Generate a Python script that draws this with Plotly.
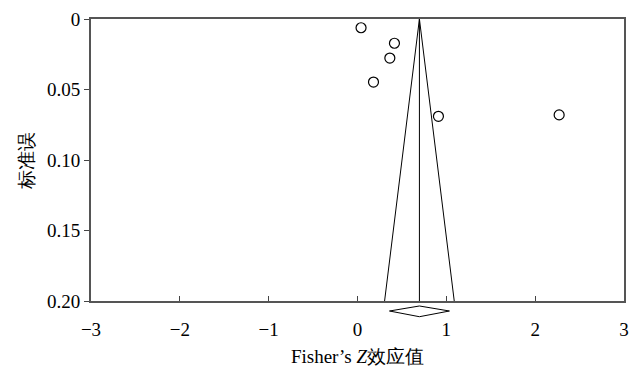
import plotly.graph_objects as go

# Study data (Fisher's Z effect size and its standard error)
effect_z = [0.04, 0.416, 0.364, 0.18, 0.911, 2.27]
std_err = [0.0062, 0.0172, 0.0277, 0.0447, 0.069, 0.068]

# Pooled estimate and 95% CI
pooled = 0.697
ci_low = 0.36
ci_high = 1.035
se_max = 0.20

x_ticks = [-3, -2, -1, 0, 1, 2, 3]
x_ticktext = ["−3", "−2", "−1", "0", "1", "2", "3"]
y_ticks = [0, 0.05, 0.10, 0.15, 0.20]
y_ticktext = ["0", "0.05", "0.10", "0.15", "0.20"]

FONT = "Liberation Serif"

fig = go.Figure()

# Funnel pseudo-confidence limits
fig.add_trace(go.Scatter(
    x=[pooled - 1.96 * se_max, pooled, pooled + 1.96 * se_max],
    y=[se_max, 0, se_max],
    mode="lines", line=dict(color="black", width=1), showlegend=False, hoverinfo="skip"))
# Pooled estimate vertical line
fig.add_trace(go.Scatter(
    x=[pooled, pooled], y=[0, se_max],
    mode="lines", line=dict(color="black", width=1), showlegend=False, hoverinfo="skip"))
# Studies
fig.add_trace(go.Scatter(
    x=effect_z, y=std_err, mode="markers",
    marker=dict(symbol="circle-open", size=10, color="black", line=dict(width=1.2)),
    showlegend=False, cliponaxis=False))

# Diamond for pooled CI, below the axis
fig.add_shape(type="path", xref="x", yref="paper",
              path=f"M {ci_low},-0.0355 L {pooled},-0.0177 L {ci_high},-0.0355 L {pooled},-0.0557 Z",
              line=dict(color="black", width=1), fillcolor="white")

fig.update_layout(
    width=633, height=367,
    margin=dict(l=91, r=9, t=19, b=66),
    plot_bgcolor="white", paper_bgcolor="white",
    font=dict(family=FONT, size=19, color="black"),
    xaxis=dict(range=[-3, 3], tickvals=x_ticks, ticktext=x_ticktext,
               ticks="inside", ticklen=5, tickcolor="#444", tickwidth=1,
               showline=True, linecolor="#555", linewidth=2, mirror=True,
               showgrid=False, zeroline=False, ticklabelstandoff=10,
               automargin=False,
               title=dict(text="Fisher’s <i>Z</i>效应值", standoff=13,
                          font=dict(family=FONT, size=19))),
    yaxis=dict(range=[0.2, 0], tickvals=y_ticks, ticktext=y_ticktext,
               ticks="outside", ticklen=5, tickcolor="#444", tickwidth=1,
               showline=True, linecolor="#555", linewidth=2, mirror=True,
               showgrid=False, zeroline=False, automargin=False,
               title=dict(text="标准误", standoff=8,
                          font=dict(family=FONT, size=19))),
)

fig.write_html(
    "out.html",
    config={"displayModeBar": False},
    post_script="document.body.style.margin='0';document.body.style.overflow='hidden';",
)
